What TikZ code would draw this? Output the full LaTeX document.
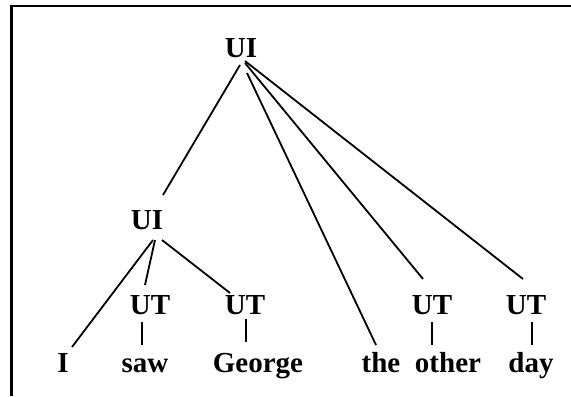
\documentclass[tikz,border=0pt]{standalone}
\usepackage{fontspec}
\setmainfont{Liberation Serif}

\begin{document}
\begin{tikzpicture}[x=0.5pt, y=-0.5pt, line width=0.9pt,
    every node/.style={font=\fontsize{14.5}{16}\selectfont\bfseries, inner sep=0pt, anchor=base}]
        \useasboundingbox (0,0) rectangle (571,396);
        \draw[line width=1.1pt] (11.5,396) -- (11.5,6) -- (571,6);

        % categories
        \node (top) at (241,57) {UI};
        \node (mid) at (147,229) {UI};
        \node (utSaw) at (150,314) {UT};
        \node (utGeorge) at (245,314) {UT};
        \node (utOther) at (432,314) {UT};
        \node (utDay) at (526,314) {UT};

        % words
        \node (wI) at (63,372) {I};
        \node (wSaw) at (145,372) {saw};
        \node (wGeorge) at (258,372) {George};
        \node (wThe) at (381,372) {the};
        \node (wOther) at (448,372) {other};
        \node (wDay) at (531,372) {day};

        \draw ([shift={(-1,8)}]top.base) -- ([shift={(16,-34)}]mid.base);
        \draw ([shift={(6,16)}]top.base) -- ([shift={(-5,-27)}]wThe.base);
        \draw ([shift={(4,6)}]top.base) -- ([shift={(-9,-35)}]utOther.base);
        \draw ([shift={(4,4)}]top.base) -- ([shift={(-3,-35)}]utDay.base);

        \draw ([shift={(6,11)}]mid.base) -- ([shift={(9,-25)}]wI.base);
        \draw ([shift={(8,11)}]mid.base) -- ([shift={(-5,-29)}]utSaw.base);
        \draw ([shift={(15,11)}]mid.base) -- ([shift={(-15,-21)}]utGeorge.base);

        \draw ([shift={(-8,8)}]utSaw.base) -- ([shift={(-3,-27)}]wSaw.base);
        \draw ([shift={(1,5)}]utGeorge.base) -- ([shift={(-12,-30)}]wGeorge.base);
        \draw ([shift={(0,8)}]utOther.base) -- ([shift={(-16,-27)}]wOther.base);
        \draw ([shift={(6,8)}]utDay.base) -- ([shift={(1,-27)}]wDay.base);
    \end{tikzpicture}
\end{document}
